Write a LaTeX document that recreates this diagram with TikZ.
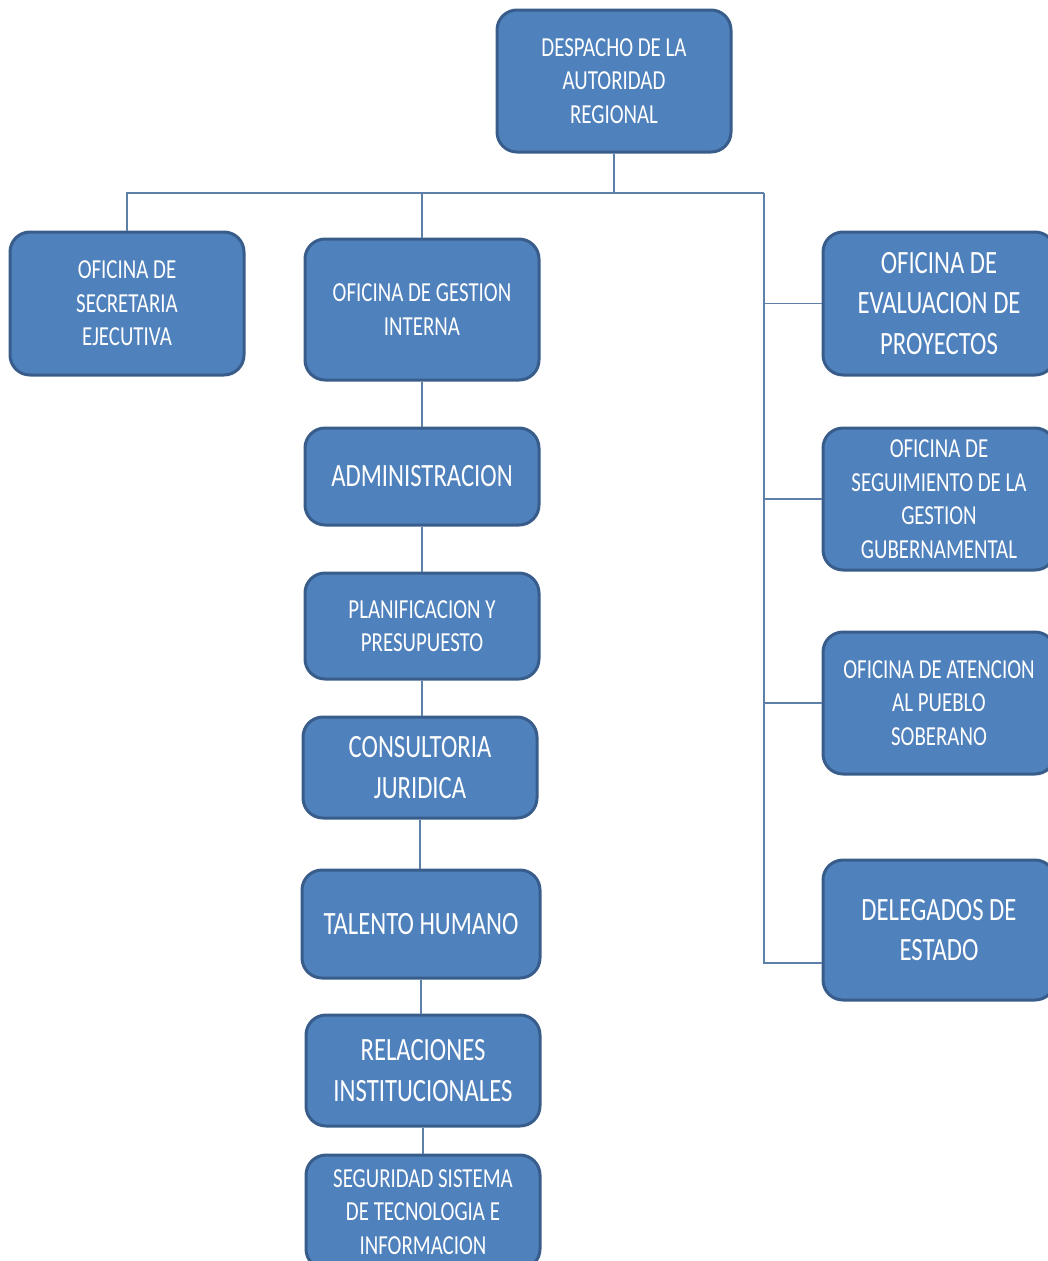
\documentclass[tikz,border=0pt]{standalone}
\usepackage{fontspec}
\newfontfamily\orgfont{Carlito}[FakeStretch=0.76]

\definecolor{boxfill}{rgb}{0.310000, 0.506000, 0.741000}
\definecolor{boxline}{rgb}{0.220000, 0.365000, 0.545000}
\definecolor{linkline}{rgb}{0.360000, 0.500000, 0.660000}

\tikzset{
  unit/.style={draw=boxline, line width=3pt, fill=boxfill, rounded corners=20pt,
    text=white, align=center, inner sep=0pt,
    font={\orgfont\fontsize{27.5}{33.5}\selectfont}},
  bigunit/.style={unit, font={\orgfont\fontsize{32.5}{40.5}\selectfont}},
  link/.style={draw=linkline, line width=1.2pt}
}

\begin{document}
\begin{tikzpicture}[x=1pt,y=-1pt]
\useasboundingbox (0,0) rectangle (1048,1261);
% top
\node[unit, minimum width=234, minimum height=142] (despacho) at (614,81) {DESPACHO DE LA\\AUTORIDAD\\REGIONAL};
% first level
\node[unit, minimum width=234, minimum height=143] (secretaria) at (127,303.5) {OFICINA DE\\SECRETARIA\\EJECUTIVA};
\node[unit, minimum width=234, minimum height=141] (gestion) at (422,309.5) {OFICINA DE GESTION\\INTERNA};
% column under gestion
\node[bigunit, minimum width=234, minimum height=97] (admin) at (422,476.5) {ADMINISTRACION};
\node[unit, minimum width=234, minimum height=106] (planif) at (422,626) {PLANIFICACION Y\\PRESUPUESTO};
\node[bigunit, minimum width=234, minimum height=101] (consult) at (420,767.5) {CONSULTORIA\\JURIDICA};
\node[bigunit, minimum width=238, minimum height=108] (talento) at (421,924) {TALENTO HUMANO};
\node[bigunit, minimum width=234, minimum height=111] (relac) at (423,1070.5) {RELACIONES\\INSTITUCIONALES};
\node[unit, minimum width=234, minimum height=114] (seguridad) at (423,1212) {SEGURIDAD SISTEMA\\DE TECNOLOGIA E\\INFORMACION};
% right column
\node[bigunit, minimum width=232, minimum height=143] (evaluacion) at (939,303.5) {OFICINA DE\\EVALUACION DE\\PROYECTOS};
\node[unit, minimum width=232, minimum height=142] (seguim) at (939,499) {OFICINA DE\\SEGUIMIENTO DE LA\\GESTION\\GUBERNAMENTAL};
\node[unit, minimum width=232, minimum height=142] (atencion) at (939,703) {OFICINA DE ATENCION\\AL PUEBLO\\SOBERANO};
\node[bigunit, minimum width=232, minimum height=140] (delegados) at (939,930) {DELEGADOS DE\\ESTADO};

% connectors
\coordinate (bus) at (614,193);
\coordinate (busR) at (764,193);
\coordinate (spineEnd) at (764,963);
\draw[link] (despacho.south) -- (bus);
\draw[link] (secretaria.north) |- (busR);
\draw[link] (gestion.north) -- (gestion.north |- bus);
\draw[link] (busR) -- (spineEnd) -- (spineEnd -| delegados.west);
\foreach \office in {evaluacion, seguim, atencion}
  \draw[link] (\office.west) -- (\office.west -| busR);
\foreach \upper/\lower in {gestion/admin, admin/planif, planif/consult, consult/talento, talento/relac, relac/seguridad}
  \draw[link] (\upper.south) -- (\upper.south |- \lower.north);
\end{tikzpicture}
\end{document}
